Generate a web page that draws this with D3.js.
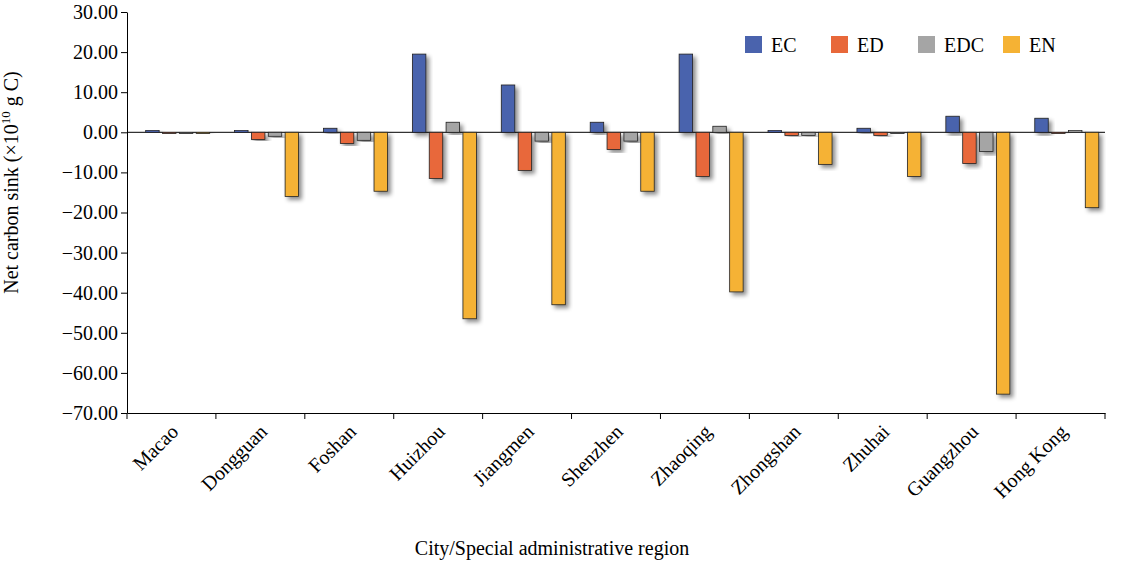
<!DOCTYPE html>
<html><head><meta charset="utf-8">
<script src="https://cdn.jsdelivr.net/npm/d3@7"></script>
<style>body{margin:0;background:#fff}text{font-family:"Liberation Serif","Times New Roman",serif}</style>
</head><body><svg id="c" width="1125" height="562"></svg>
<script>
const cities = ["Macao","Dongguan","Foshan","Huizhou","Jiangmen","Shenzhen","Zhaoqing","Zhongshan","Zhuhai","Guangzhou","Hong Kong"];
const series = ["EC","ED","EDC","EN"];
const EC  = [0.5, 0.5, 1.0, 19.5, 11.8, 2.5, 19.5, 0.5, 1.0, 4.0, 3.5];
const ED  = [-0.3, -1.8, -2.8, -11.5, -9.5, -4.3, -11.0, -0.8, -0.8, -7.8, -0.3];
const EDC = [-0.3, -1.0, -2.0, 2.5, -2.2, -2.2, 1.5, -0.8, -0.3, -4.8, 0.5];
const EN  = [-0.3, -16.0, -14.7, -46.5, -43.0, -14.7, -39.8, -8.0, -11.0, -65.3, -18.8];
const colors = ["#4a63ad","#e8683a","#a5a5a5","#f5b234"];
const values = [EC, ED, EDC, EN];

const margin = {top: 12, right: 20, bottom: 149, left: 127};
const width = 1125 - margin.left - margin.right;
const height = 562 - margin.top - margin.bottom;
const svg = d3.select("#c");
const defs = svg.append("defs");
const f = defs.append("filter").attr("id","sh").attr("x","-50%").attr("y","-10%").attr("width","200%").attr("height","130%");
f.append("feDropShadow").attr("dx",3).attr("dy",3).attr("stdDeviation",2).attr("flood-color","#000").attr("flood-opacity",0.45);

const g = svg.append("g").attr("transform",`translate(${margin.left},${margin.top})`);
const x = d3.scaleBand().domain(cities).range([0, width]);
const xs = d3.scaleBand().domain(series).range([x.bandwidth()*0.21, x.bandwidth()*0.93]).paddingInner(0.2);
const y = d3.scaleLinear().domain([-70, 30]).range([height, 0]);

g.append("g").call(d3.axisLeft(y).ticks(10).tickFormat(d => (d < 0 ? "\u2212" + Math.abs(d).toFixed(2) : d.toFixed(2))).tickSizeOuter(0))
  .call(a => a.selectAll("text").attr("font-size", 20).attr("fill","#000"))
  .call(a => a.selectAll("line,path").attr("stroke","#000"));

g.append("g").attr("transform",`translate(0,${height})`)
  .call(d3.axisBottom(x).tickSize(0).tickFormat(""))
  .call(a => a.select("path").attr("stroke","#000"));
g.append("g").selectAll("line").data(d3.range(cities.length + 1)).join("line")
  .attr("x1", i => i * x.step()).attr("x2", i => i * x.step())
  .attr("y1", height).attr("y2", height + 6).attr("stroke","#000");
g.append("g").selectAll("text").data(cities).join("text")
  .attr("transform", d => `translate(${x(d) + x.bandwidth()/2 + 8},${height + 20}) rotate(-45)`)
  .attr("text-anchor","end").attr("font-size", 20).text(d => d);

g.append("line").attr("x1",0).attr("x2",width).attr("y1",y(0)).attr("y2",y(0)).attr("stroke","#000");

series.forEach((s, si) => {
  g.append("g").selectAll("rect").data(values[si]).join("rect")
    .attr("x", (d, i) => x(cities[i]) + xs(s))
    .attr("width", xs.bandwidth())
    .attr("y", d => y(Math.max(0, d)))
    .attr("height", d => Math.abs(y(d) - y(0)))
    .attr("fill", colors[si]).attr("stroke","#222").attr("stroke-width",0.8)
    .attr("filter","url(#sh)");
});

const lg = svg.append("g");
const lx = [745, 831, 918, 1003];
series.forEach((s, i) => {
  lg.append("rect").attr("x", lx[i]).attr("y", 36).attr("width", 17).attr("height", 17).attr("fill", colors[i]);
  lg.append("text").attr("x", lx[i] + 26).attr("y", 52).attr("font-size", 20).text(s);
});

svg.append("text").attr("x", 552).attr("y", 555).attr("text-anchor","middle").attr("font-size", 20)
  .text("City/Special administrative region");
const yt = svg.append("text").attr("transform",`translate(18,${margin.top + height/2 - 30}) rotate(-90)`)
  .attr("text-anchor","middle").attr("font-size", 20);
yt.append("tspan").text("Net carbon sink (\u00d710");
yt.append("tspan").attr("font-size", 13).attr("dy", -8).text("10");
yt.append("tspan").attr("dy", 8).text(" g C)");
</script></body></html>
